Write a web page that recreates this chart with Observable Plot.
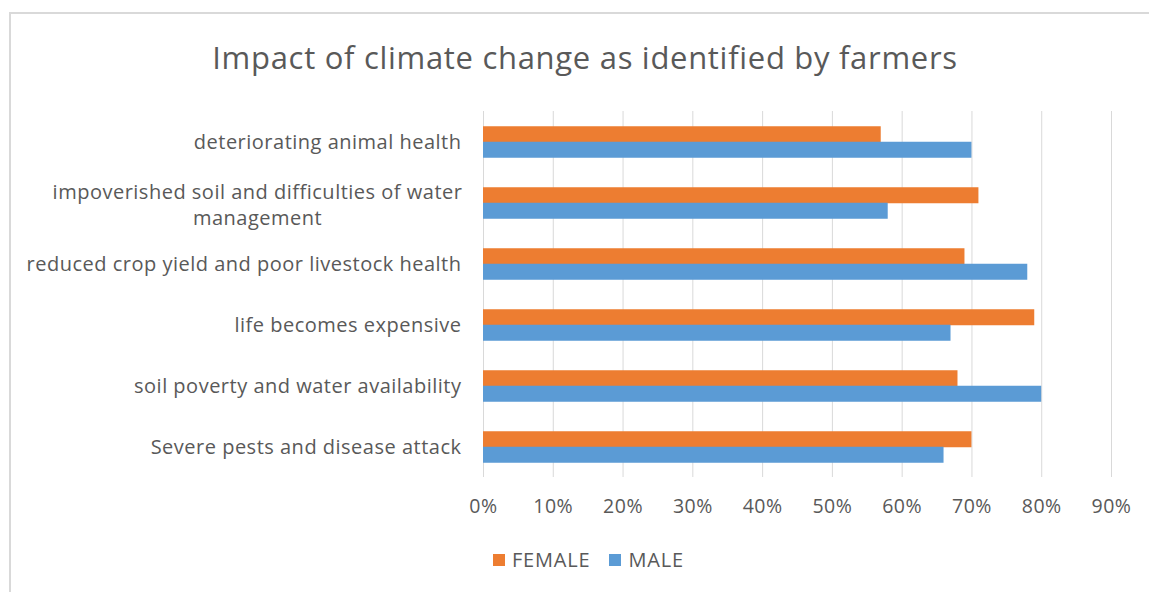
<!DOCTYPE html>
<html>
<head>
<meta charset="utf-8">
<script src="https://cdn.jsdelivr.net/npm/d3@7"></script>
<script src="https://cdn.jsdelivr.net/npm/@observablehq/plot@0.6"></script>
<style>
  html, body { margin: 0; padding: 0; background: #fff; }
  body { width: 1149px; height: 592px; position: relative; overflow: hidden; font-family: "Open Sans", sans-serif; color: #595959; }
  #frame { position: absolute; left: 9px; top: 12px; width: 1160px; height: 620px; border: 2px solid #d9d9d9; box-sizing: border-box; }
  #title { position: absolute; left: 0; top: 37px; width: 1170px; text-align: center; font-size: 31px; letter-spacing: 0.7px; line-height: 40px; color: #595959; white-space: nowrap; }
  #chart { position: absolute; left: 0; top: 90px; line-height: 0; }
  #chart svg text { letter-spacing: 0.5px; }
  #legend { position: absolute; top: 546px; left: 493px; display: flex; align-items: center; font-size: 20px; letter-spacing: 0.8px; line-height: 28px; color: #595959; }
  #legend .sw { width: 12px; height: 12px; display: inline-block; margin-right: 7px; }
  #legend .item { display: flex; align-items: center; margin-right: 19px; }
</style>
</head>
<body>
<div id="frame"></div>
<div id="title">Impact of climate change as identified by farmers</div>
<div id="chart"></div>
<div id="legend"></div>
<script>
const categories = [
  "deteriorating animal health",
  "impoverished soil and difficulties of water management",
  "reduced crop yield and poor livestock health",
  "life becomes expensive",
  "soil poverty and water availability",
  "Severe pests and disease attack"
];
const female = [0.57, 0.71, 0.69, 0.79, 0.68, 0.70];
const male   = [0.70, 0.58, 0.78, 0.67, 0.80, 0.66];
const series = ["FEMALE", "MALE"];
const colors = ["#ED7D31", "#5B9BD5"];
const xTicks = [0, 0.1, 0.2, 0.3, 0.4, 0.5, 0.6, 0.7, 0.8, 0.9];
const wrapped = {"impoverished soil and difficulties of water management": "impoverished soil and difficulties of water\nmanagement"};

const femaleData = categories.map((c, i) => ({category: c, value: female[i]}));
const maleData = categories.map((c, i) => ({category: c, value: male[i]}));
const wrappedData = categories.filter(c => wrapped[c]).map(c => ({category: c, label: wrapped[c]}));
const pct = d => Math.round(d * 100) + "%";

const chart = Plot.plot({
  width: 1149,
  height: 440,
  marginTop: 21,
  marginBottom: 53,
  marginLeft: 483,
  marginRight: 38,
  style: {fontFamily: "'Open Sans', sans-serif", color: "#595959", background: "transparent"},
  x: {domain: [0, 0.9], ticks: xTicks, tickFormat: pct},
  y: {domain: categories, paddingInner: 0.745, paddingOuter: 0.3725},
  marks: [
    Plot.ruleX(xTicks, {stroke: "#d9d9d9", strokeWidth: 1}),
    Plot.barX(femaleData, {y: "category", x: "value", fill: colors[0], dy: -7.75}),
    Plot.barX(maleData, {y: "category", x: "value", fill: colors[1], dy: 7.75}),
    Plot.axisX({ticks: xTicks, tickSize: 0, tickPadding: 22, fontSize: 19.5, tickFormat: pct, label: null, fill: "#595959"}),
    Plot.axisY({tickSize: 0, tickPadding: 22, fontSize: 20, label: null, fill: "#595959",
      tickFormat: d => wrapped[d] ? null : d}),
    Plot.text(wrappedData, {y: "category", text: "label", frameAnchor: "left", textAnchor: "middle", dx: -226, fontSize: 20, fill: "#595959", lineHeight: 1.3})
  ]
});
document.getElementById("chart").appendChild(chart);

const legend = document.getElementById("legend");
series.forEach((s, i) => {
  const item = document.createElement("div");
  item.className = "item";
  const sw = document.createElement("span");
  sw.className = "sw";
  sw.style.background = colors[i];
  const t = document.createElement("span");
  t.textContent = s;
  item.appendChild(sw);
  item.appendChild(t);
  legend.appendChild(item);
});
</script>
</body>
</html>
